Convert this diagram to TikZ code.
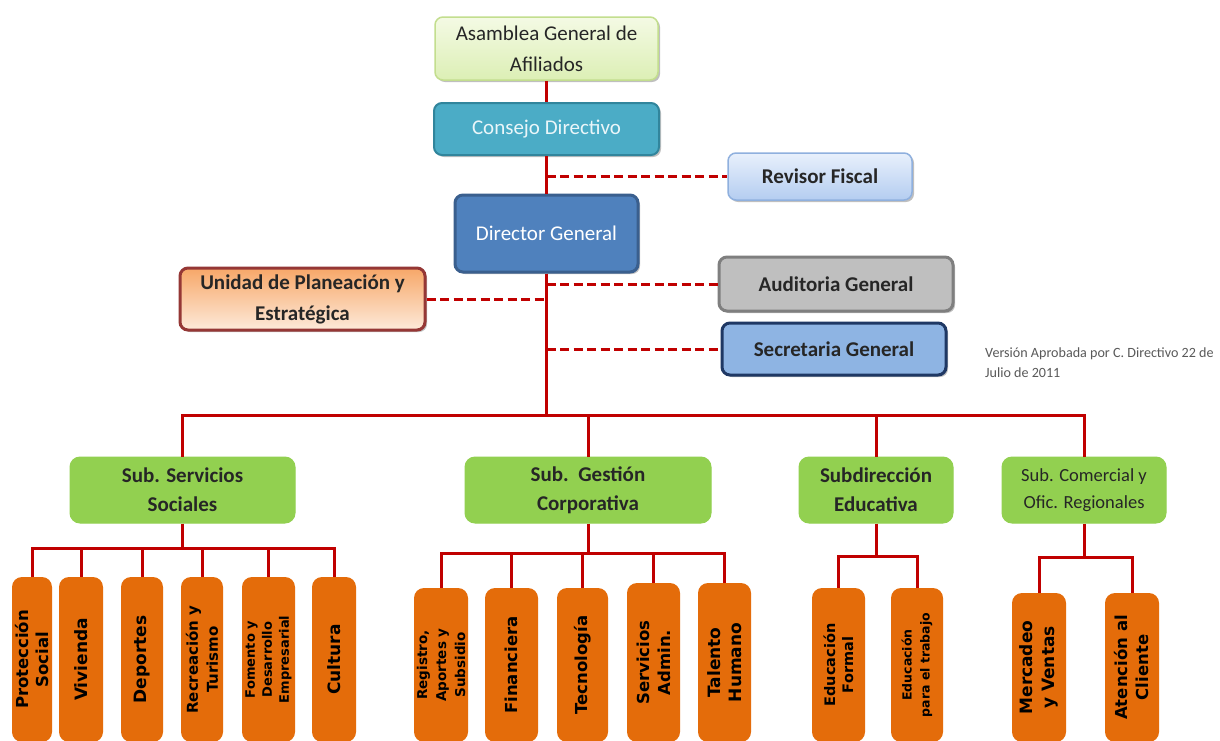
\documentclass[tikz,border=0pt]{standalone}
\usepackage{fontspec}
\setmainfont{Carlito}
\newfontfamily\leaffont{DejaVu Sans}
\usetikzlibrary{shadows}
\definecolor{linered}{HTML}{C00000}
\definecolor{asamtop}{HTML}{F4FAE4}
\definecolor{asambot}{HTML}{DCEFB5}
\definecolor{asamdraw}{HTML}{C3DE8E}
\definecolor{consfill}{HTML}{4BACC6}
\definecolor{consdraw}{HTML}{31859C}
\definecolor{constext}{HTML}{EAF6F9}
\definecolor{revtop}{HTML}{E8F0FC}
\definecolor{revbot}{HTML}{B4CDF0}
\definecolor{revdraw}{HTML}{8FB0DE}
\definecolor{dirfill}{HTML}{4F81BD}
\definecolor{dirdraw}{HTML}{3A5F8E}
\definecolor{audfill}{HTML}{BFBFBF}
\definecolor{auddraw}{HTML}{7F7F7F}
\definecolor{unitop}{HTML}{F7A768}
\definecolor{unibot}{HTML}{FDEADA}
\definecolor{unidraw}{HTML}{953735}
\definecolor{secfill}{HTML}{8EB4E3}
\definecolor{secdraw}{HTML}{1F3864}
\definecolor{subgreen}{HTML}{92D050}
\definecolor{leaforange}{HTML}{E46C0A}
\definecolor{textdark}{HTML}{262626}
\definecolor{notegray}{HTML}{595959}
\begin{document}
\begin{tikzpicture}[x=1pt,y=-1pt,
  box/.style={draw, rounded corners=8pt, line width=2pt, align=center, inner sep=2pt, text=textdark},
  bigtext/.style={font=\fontsize{21}{31}\selectfont},
  boldtext/.style={font=\bfseries\fontsize{21}{31}\selectfont},
  shadowed/.style={drop shadow={shadow xshift=2pt, shadow yshift=-2pt, opacity=0.25, fill=black}},
  subbox/.style={box, fill=subgreen, draw=subgreen, line width=1pt, minimum height=66pt, rounded corners=10pt, font=\bfseries\fontsize{21}{29}\selectfont},
  leaf/.style={fill=leaforange, rounded corners=10pt, rotate=90, align=center, inner sep=1pt, text=black},
  lf/.style 2 args={font=\leaffont\bfseries\fontsize{#1}{#2}\selectfont},
  conn/.style={draw=linered, line width=3pt},
  dconn/.style={conn, dash pattern=on 9pt off 4.5pt}
]
\clip (0,0) rectangle (1220,740);
\fill[white] (0,0) rectangle (1220,740);

% top level
\node[box, shadowed, top color=asamtop, bottom color=asambot, draw=asamdraw, line width=1.5pt,
  minimum width=223pt, minimum height=63pt, bigtext] (asam) at (546.5,48.5) {Asamblea General de\\Afiliados};
\node[box, shadowed, fill=consfill, draw=consdraw, minimum width=225pt, minimum height=52pt,
  bigtext, text=constext] (consejo) at (546.5,129) {Consejo Directivo};
\node[box, shadowed, top color=revtop, bottom color=revbot, draw=revdraw, line width=1.5pt,
  minimum width=184pt, minimum height=47pt, boldtext] (revisor) at (820,176.5) {Revisor Fiscal};
\node[box, shadowed, fill=dirfill, draw=dirdraw, line width=3pt, minimum width=183pt, minimum height=77pt,
  bigtext, text=white] (director) at (546.5,233.5) {Director General};
\node[box, shadowed, fill=audfill, draw=auddraw, line width=3pt, minimum width=234pt, minimum height=54pt,
  boldtext] (auditoria) at (836,284) {Auditoria General};
\node[box, shadowed, top color=unitop, bottom color=unibot, draw=unidraw, line width=3pt,
  minimum width=245pt, minimum height=62pt, boldtext] (unidad) at (302.5,299) {Unidad de Planeación y\\Estratégica};
\node[box, shadowed, fill=secfill, draw=secdraw, line width=3pt, minimum width=224pt, minimum height=52pt,
  boldtext] (secretaria) at (834,349) {Secretaria General};
\node[anchor=west, align=left, text=notegray, inner sep=0pt, font=\fontsize{14.1}{20}\selectfont]
  (note) at (985,363) {Versión Aprobada por C. Directivo 22 de\\Julio de 2011};

% connectors top
\draw[conn] (asam.south) -- (consejo.north);
\draw[conn] (consejo.south) -- (director.north);
\draw[dconn] (director.south |- revisor.west) -- (revisor.west);
\draw[dconn] (director.south |- auditoria.west) -- (auditoria.west);
\draw[dconn] (unidad.east) -- (unidad.east -| director.south);
\draw[dconn] (director.south |- secretaria.west) -- (secretaria.west);

% sub-directions
\node[subbox, minimum width=225pt] (subss) at (182.5,490) {Sub. Servicios\\Sociales};
\node[subbox, minimum width=246pt] (subgc) at (588,490) {Sub.\ \ Gestión\\Corporativa};
\node[subbox, minimum width=154pt] (subed) at (876,490) {Subdirección\\Educativa};
\node[subbox, minimum width=164pt, font=\fontsize{18.5}{27}\selectfont] (subcom) at (1084,490) {Sub. Comercial y\\Ofic. Regionales};

\coordinate (bus) at (546.5,415);
\draw[conn] (director.south) -- (bus);
\draw[conn] (subss.north) |- (bus) -| (subcom.north);
\draw[conn] (subgc.north) -- (subgc.north |- bus);
\draw[conn] (subed.north) -- (subed.north |- bus);

% leaves: Servicios Sociales
\node[leaf, minimum width=165pt, minimum height=40pt, lf={16.5}{20}] (p1) at (32,659.5) {Protección\\Social};
\node[leaf, minimum width=165pt, minimum height=44pt, lf={17}{20}] (p2) at (81,659.5) {Vivienda};
\node[leaf, minimum width=165pt, minimum height=42pt, lf={17}{20}] (p3) at (142,659.5) {Deportes};
\node[leaf, minimum width=165pt, minimum height=42pt, lf={15}{20}] (p4) at (202,659.5) {Recreación y\\Turismo};
\node[leaf, minimum width=165pt, minimum height=53pt, lf={13}{17}] (p5) at (268.5,659.5) {Fomento y\\Desarrollo\\Empresarial};
\node[leaf, minimum width=165pt, minimum height=44pt, lf={17}{20}] (p6) at (334,659.5) {Cultura};
\coordinate (b1) at (182.5,548);
\draw[conn] (subss.south) -- (b1);
\draw[conn] (p1.east) |- (b1) -| (p6.east);
\foreach \n in {p2,p3,p4,p5} \draw[conn] (\n.east) -- (\n.east |- b1);

% leaves: Gestion Corporativa
\node[leaf, minimum width=154pt, minimum height=54pt, lf={13.5}{19}] (g1) at (441,665) {Registro,\\Aportes y\\Subsidio};
\node[leaf, minimum width=154pt, minimum height=53pt, lf={16.5}{20}] (g2) at (511.5,665) {Financiera};
\node[leaf, minimum width=154pt, minimum height=51pt, lf={16.5}{20}] (g3) at (582.5,665) {Tecnología};
\node[leaf, minimum width=159pt, minimum height=53pt, lf={16.5}{21}] (g4) at (653.5,662.5) {Servicios\\Admin.};
\node[leaf, minimum width=159pt, minimum height=53pt, lf={17}{21}] (g5) at (724.5,662.5) {Talento\\Humano};
\coordinate (b2) at (588,553);
\draw[conn] (subgc.south) -- (b2);
\draw[conn] (g1.east) |- (b2) -| (g5.east);
\foreach \n in {g2,g3,g4} \draw[conn] (\n.east) -- (\n.east |- b2);

% leaves: Educativa
\node[leaf, minimum width=154pt, minimum height=53pt, lf={14.5}{18}] (e1) at (838.5,665) {Educación\\Formal};
\node[leaf, minimum width=154pt, minimum height=52pt, lf={12.5}{18}] (e2) at (917,665) {Educación\\para el trabajo};
\coordinate (b3) at (876,556);
\draw[conn] (subed.south) -- (b3);
\draw[conn] (e1.east) |- (b3) -| (e2.east);

% leaves: Comercial
\node[leaf, minimum width=149pt, minimum height=54pt, lf={17}{22}] (c1) at (1039,667.5) {Mercadeo\\y Ventas};
\node[leaf, minimum width=149pt, minimum height=54pt, lf={16.5}{21}] (c2) at (1132,667.5) {Atención al\\Cliente};
\coordinate (b4) at (1084,557);
\draw[conn] (subcom.south) -- (b4);
\draw[conn] (c1.east) |- (b4) -| (c2.east);
\end{tikzpicture}
\end{document}
